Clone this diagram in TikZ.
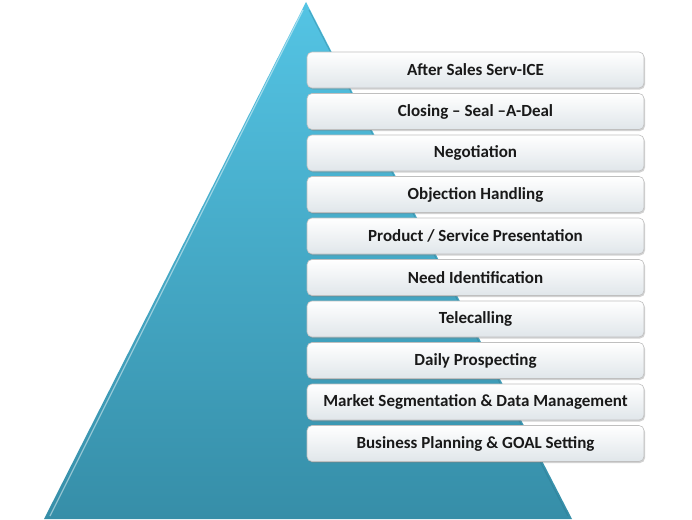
\documentclass[tikz,border=0pt]{standalone}
\usepackage{fontspec}
\setmainfont{Carlito}
\usetikzlibrary{shadows}
\definecolor{tritop}{RGB}{84,196,228}
\definecolor{tribot}{RGB}{54,142,168}
\definecolor{boxtop}{RGB}{255,255,255}
\definecolor{boxbot}{RGB}{224,230,234}
\tikzset{
  stepbox/.style={draw=black!25, line width=0.6pt, rounded corners=5pt,
    top color=boxtop, bottom color=boxbot, minimum width=337pt, minimum height=36pt,
    inner sep=0pt, font=\fontsize{17}{19}\selectfont\bfseries, text=black!90,
    drop shadow={shadow xshift=1pt, shadow yshift=-1.5pt, opacity=0.35}},
}
\begin{document}
\begin{tikzpicture}[x=1pt,y=-1pt]
\useasboundingbox (0,0) rectangle (692,519);
\fill[white] (0,0) rectangle (692,519);
% pyramid
\shade[top color=tritop, bottom color=tribot] (306,2) -- (572,519) -- (44,519) -- cycle;
\draw[white, opacity=0.45, line width=1.2pt] (303,10) -- (50,516);
\draw[tribot!80!black, opacity=0.35, line width=1pt] (309,10) -- (568,516);
% boxes
\node[stepbox] (s10) at (475.5,70)  {After Sales Serv-ICE};
\node[stepbox] (s9)  at (475.5,111.5) {Closing -- Seal --A-Deal};
\node[stepbox] (s8)  at (475.5,153) {Negotiation};
\node[stepbox] (s7)  at (475.5,194.5) {Objection Handling};
\node[stepbox] (s6)  at (475.5,236) {Product / Service Presentation};
\node[stepbox] (s5)  at (475.5,277.5) {Need Identification};
\node[stepbox] (s4)  at (475.5,319) {Telecalling};
\node[stepbox] (s3)  at (475.5,360.5) {Daily Prospecting};
\node[stepbox] (s2)  at (475.5,402) {Market Segmentation \& Data Management};
\node[stepbox] (s1)  at (475.5,443.5) {Business Planning \& GOAL Setting};
\end{tikzpicture}
\end{document}
